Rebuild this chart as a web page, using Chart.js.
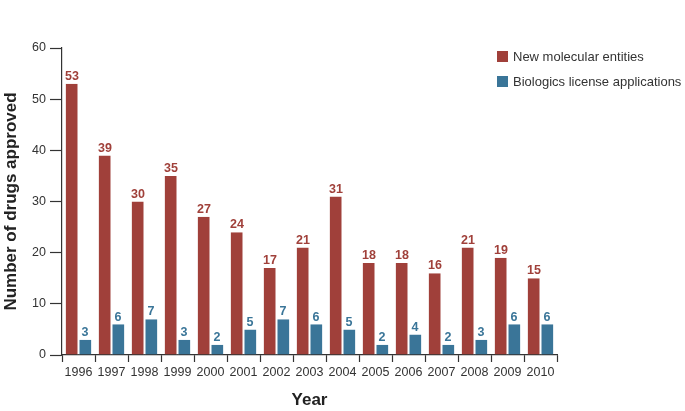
<!DOCTYPE html>
<html>
<head>
<meta charset="utf-8">
<script src="https://cdn.jsdelivr.net/npm/chart.js@4"></script>
<style>
  body { margin: 0; background: #fff; }
  #wrap { position: relative; width: 685px; height: 411px; }
  .legend { position: absolute; left: 497px; font: 13px "Liberation Sans", Arial, sans-serif; color: #333; white-space: nowrap; }
  .legend span { display: inline-block; width: 11px; height: 11px; margin-right: 5px; vertical-align: -1px; }
</style>
</head>
<body>
<div id="wrap">
  <canvas id="c" width="685" height="411"></canvas>
  <div class="legend" style="top:49px"><span style="background:#a0403a"></span>New molecular entities</div>
  <div class="legend" style="top:74px"><span style="background:#3a7598"></span>Biologics license applications</div>
</div>
<script>
const years = ['1996','1997','1998','1999','2000','2001','2002','2003','2004','2005','2006','2007','2008','2009','2010'];
const nme = [53, 39, 30, 35, 27, 24, 17, 21, 31, 18, 18, 16, 21, 19, 15];
const bla = [3, 6, 7, 3, 2, 5, 7, 6, 5, 2, 4, 2, 3, 6, 6];
const yTicks = [0, 10, 20, 30, 40, 50, 60];

const RED = '#a0403a';
const BLUE = '#3a7598';
const FONT = '"Liberation Sans", Arial, sans-serif';

// value labels above each bar
const valueLabels = {
    id: 'valueLabels',
    afterDatasetsDraw(chart) {
        const ctx = chart.ctx;
        ctx.save();
        ctx.font = 'bold 12.5px ' + FONT;
        ctx.textAlign = 'center';
        ctx.textBaseline = 'bottom';
        chart.data.datasets.forEach((ds, i) => {
            chart.getDatasetMeta(i).data.forEach((bar, j) => {
                ctx.fillStyle = ds.backgroundColor;
                ctx.fillText(ds.data[j], bar.x, bar.y - 1);
            });
        });
        ctx.restore();
    }
};

new Chart(document.getElementById('c'), {
    type: 'bar',
    data: {
        labels: years,
        datasets: [
            { label: 'New molecular entities', data: nme, backgroundColor: RED, borderColor: '#fff', borderWidth: { right: 1 }, borderSkipped: false },
            { label: 'Biologics license applications', data: bla, backgroundColor: BLUE, borderColor: '#fff', borderWidth: { left: 1 }, borderSkipped: false }
        ]
    },
    options: {
        responsive: false,
        animation: false,
        layout: { padding: { top: 48, right: 128, left: 0, bottom: 0 } },
        datasets: { bar: { categoryPercentage: 0.78, barPercentage: 1 } },
        plugins: { legend: { display: false }, tooltip: { enabled: false } },
        scales: {
            x: {
                afterFit(s) { s.height = 56; },
                grid: { offset: true, drawOnChartArea: false, tickLength: 7, color: '#333', tickWidth: 1.2 },
                border: { color: '#333', width: 1.2 },
                ticks: { color: '#333', font: { family: FONT, size: 12.5 }, padding: 3, minRotation: 0, maxRotation: 0, autoSkip: false },
                title: { display: true, text: 'Year', color: '#222', font: { family: FONT, size: 17, weight: 'bold' }, padding: { top: 6, bottom: 0 } }
            },
            y: {
                min: 0, max: 60,
                afterFit(s) { s.width = 62; },
                afterBuildTicks(s) { s.ticks = yTicks.map(v => ({ value: v })); },
                grid: { drawOnChartArea: false, tickLength: 12, color: '#333', tickWidth: 1.2 },
                border: { color: '#333', width: 1.2 },
                ticks: { color: '#333', font: { family: FONT, size: 12.5 }, padding: 4 },
                title: { display: true, text: 'Number of drugs approved', color: '#222', font: { family: FONT, size: 17, weight: 'bold' }, padding: { top: 1, bottom: 0 } }
            }
        }
    },
    plugins: [valueLabels]
});
</script>
</body>
</html>
